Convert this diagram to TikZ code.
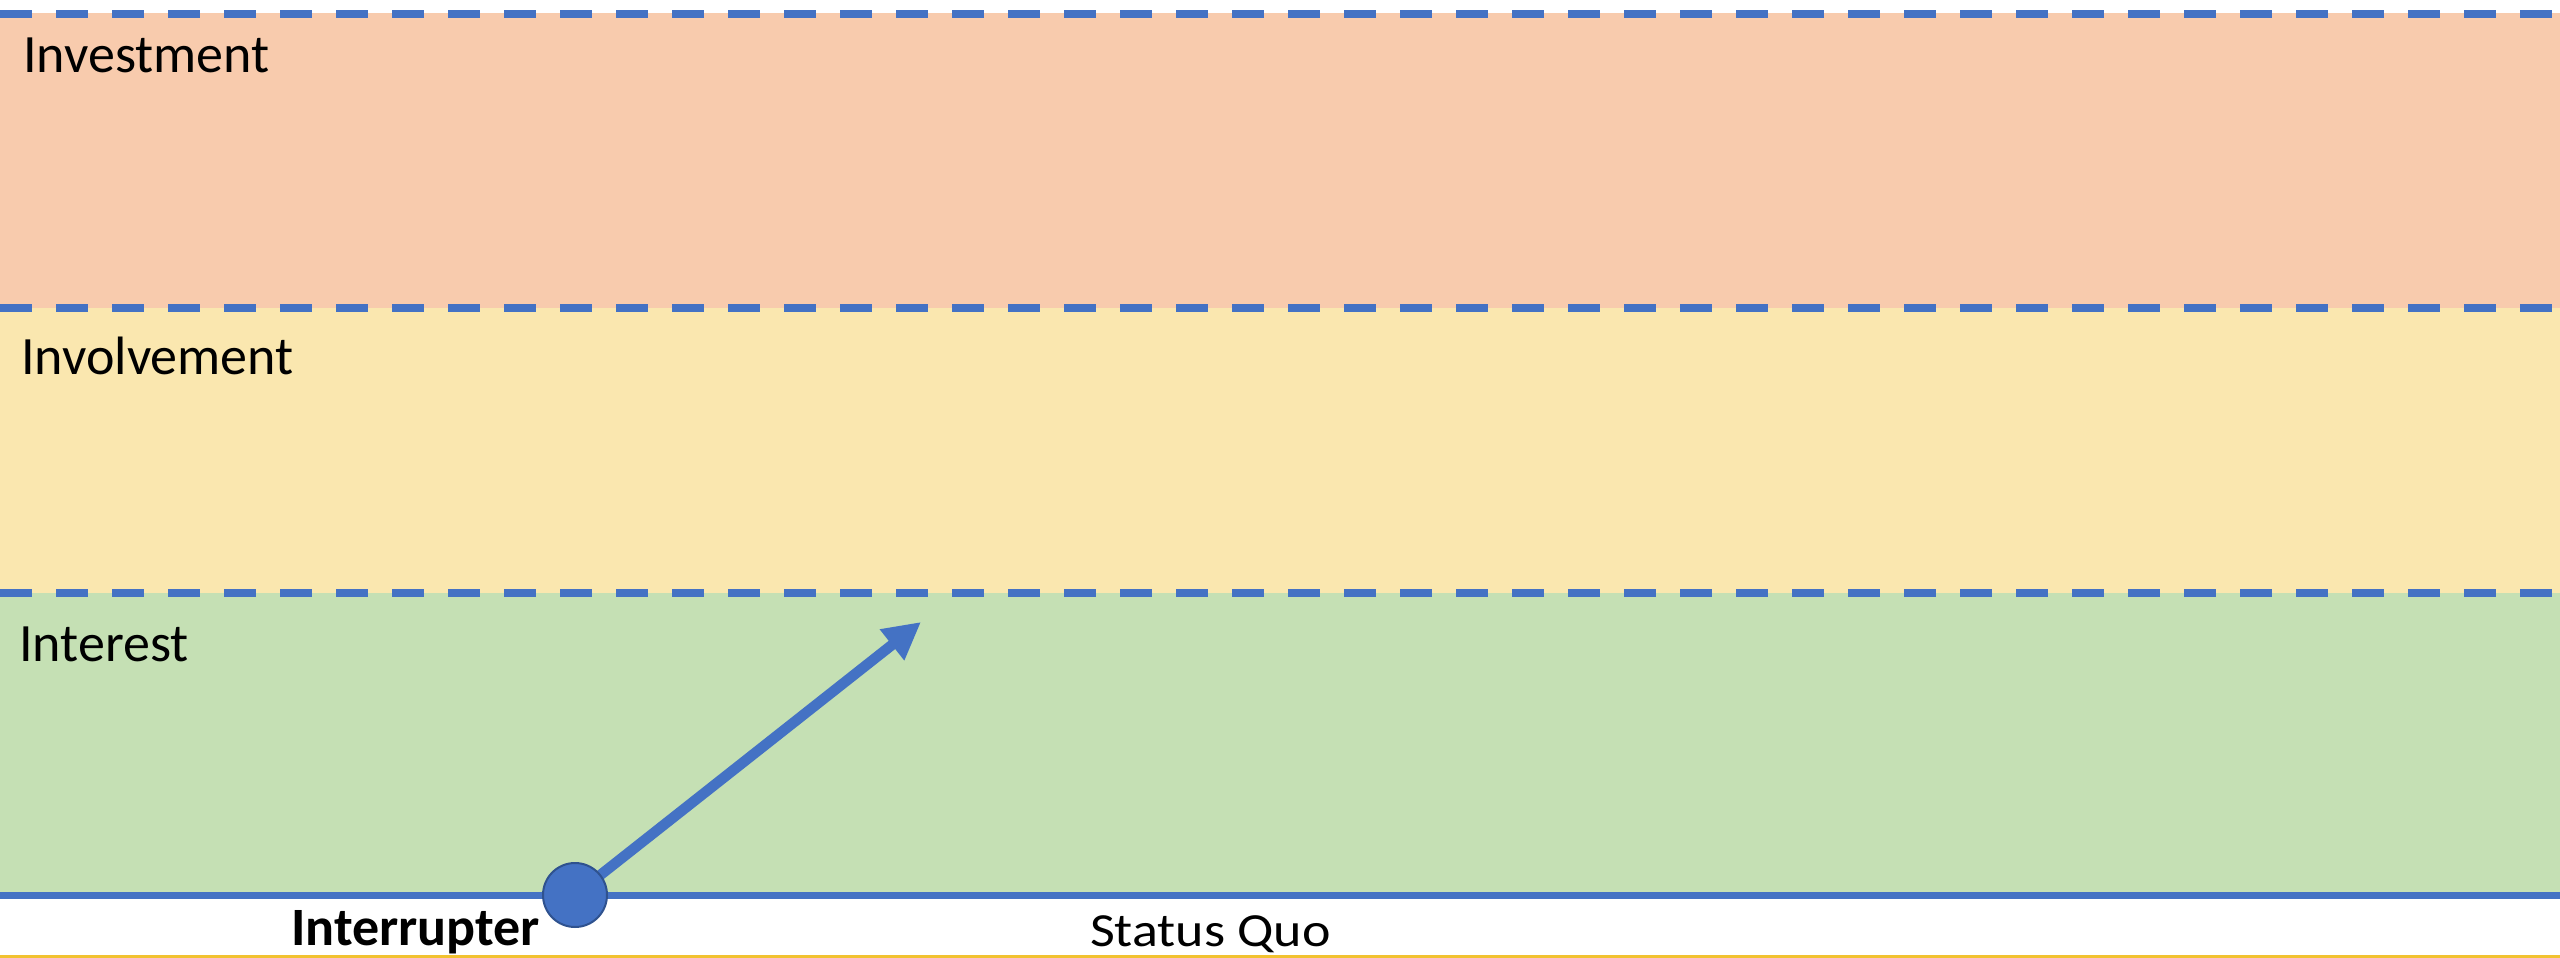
\documentclass[tikz,border=0pt]{standalone}
\usepackage{fontspec}
\setmainfont{Carlito}
\usetikzlibrary{arrows.meta}
\definecolor{peach}{HTML}{F8CBAD}
\definecolor{ylw}{HTML}{FAE7AF}
\definecolor{grn}{HTML}{C5E0B4}
\definecolor{blu}{HTML}{4472C4}
\definecolor{bluedark}{HTML}{2F528F}
\definecolor{gold}{HTML}{F2C230}
\pgfdeclarelayer{fg}
\pgfsetlayers{main,fg}
\tikzset{
  bandline/.style={draw=blu, line width=8pt, dash pattern=on 32pt off 24pt, line cap=butt},
  lbl/.style={anchor=base west, inner sep=0pt, font=\fontsize{54}{64}\selectfont},
  dot/.style={circle, fill=blu, draw=bluedark, line width=2pt, minimum size=64pt, inner sep=0pt},
  arrowline/.style={draw=blu, line width=10.5pt, -{Triangle[length=37pt,width=37pt]}},
}
\begin{document}
\begin{tikzpicture}[x=1pt,y=-1pt]
\useasboundingbox (0,0) rectangle (2560,958);
\fill[white] (0,0) rectangle (2560,958);
% bands
\fill[peach] (0,13) rectangle (2560,308);
\fill[ylw] (0,308) rectangle (2560,593);
\fill[grn] (0,593) rectangle (2560,892);
% boundaries
\draw[bandline] (0,14) -- (2560,14);
\draw[bandline] (0,308) -- (2560,308);
\draw[bandline] (0,593) -- (2560,593);
\draw[blu, line width=7.6pt] (0,895.5) -- (2560,895.5);
\draw[gold, line width=3pt] (0,956.5) -- (2560,956.5);
% labels
\node[lbl] (inv) at (23,73) {Investment};
\node[lbl] (invol) at (21,374) {Involvement};
\node[lbl] (inter) at (19,661) {Interest};
\node[lbl, font=\fontsize{54}{64}\selectfont\bfseries] (intrl) at (291,945) {Interrupter};
\node[lbl] (sq) at (1090,946) {\scalebox{1}[0.88]{Status Quo}};
% interrupter dot and arrow
\begin{pgfonlayer}{fg}
\node[dot] (intr) at (575,895) {};
\end{pgfonlayer}
\coordinate (tip) at (921,622);
\draw[arrowline] (intr.center) -- (tip);
\end{tikzpicture}
\end{document}
